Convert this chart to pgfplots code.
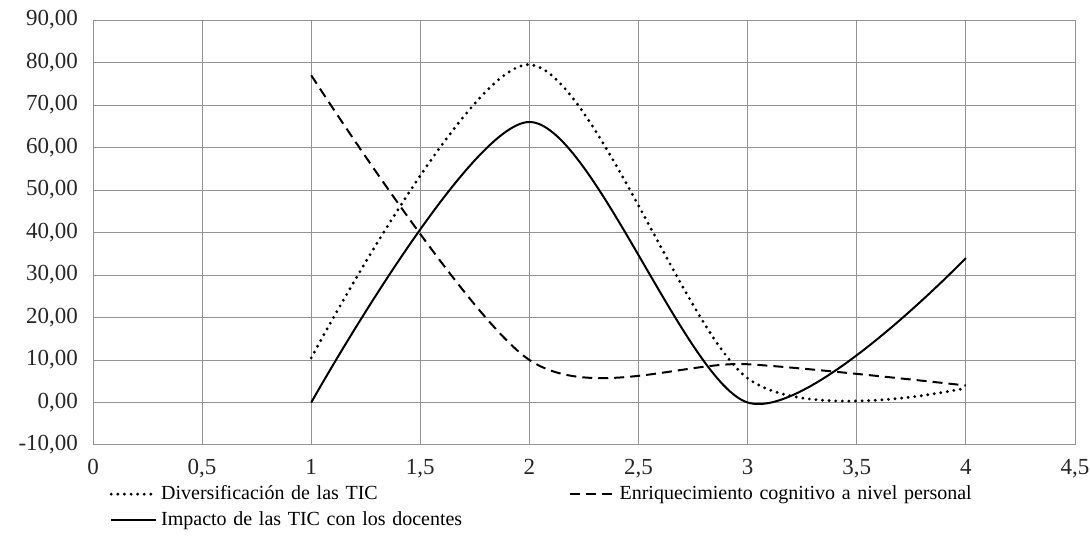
\documentclass[border=0pt]{standalone}
\usepackage{pgfplots}
\pgfplotsset{compat=1.18}
\usepackage{fontspec}
\setmainfont{Liberation Serif}
\begin{document}
\begin{tikzpicture}
\begin{axis}[
  scale only axis,
  width=491pt, height=212.5pt,
  xmin=0, xmax=4.5, ymin=-10, ymax=90,
  xtick={0,0.5,...,4.5},
  ytick={-10,0,...,90},
  grid=major,
  grid style={gray!85, line width=0.5pt},
  axis line style={gray!85, line width=0.5pt},
  tick style={draw=none},
  ticklabel style={font=\fontsize{11.5}{13}\selectfont, text=black!85},
  xticklabel style={/pgf/number format/.cd, use comma, fixed},
  yticklabel style={/pgf/number format/.cd, use comma, fixed, fixed zerofill, precision=2},
  /pgf/number format/assume math mode=true,
  yticklabel shift=4pt,
  xticklabel shift=3.5pt,
  legend style={at={(0.0104,-0.0758)}, anchor=north west, draw=none, fill=none,
    font=\fontsize{10}{11.5}\selectfont,
    nodes={text width=202pt, align=left},
    /tikz/every even column/.append style={column sep=0pt},
    row sep=0.5pt},
  legend columns=2,
  legend cell align=left,
  legend image code/.code={\draw[#1] (0cm,0cm) -- (0.78cm,0cm);},
]
\addplot[black, line width=1.6pt, line cap=round, dash pattern=on 0pt off 3.3pt, smooth] coordinates {(1,10.5) (2,79.5) (3,5.7) (4,3.4)};
\addlegendentry{Diversificación de las TIC}
\addplot[black, line width=1pt, dash pattern=on 5pt off 3pt, smooth] coordinates {(1,77) (2,10) (3,9) (4,4)};
\addlegendentry{Enriquecimiento cognitivo a nivel personal}
\addplot[black, line width=1pt, smooth] coordinates {(1,0) (2,66) (3,0) (4,34)};
\addlegendentry{Impacto de las TIC con los docentes}
\end{axis}
\pgfresetboundingbox
\path[use as bounding box] (-46.5pt,-50pt) rectangle (498.5pt,222.5pt);
\end{tikzpicture}
\end{document}
